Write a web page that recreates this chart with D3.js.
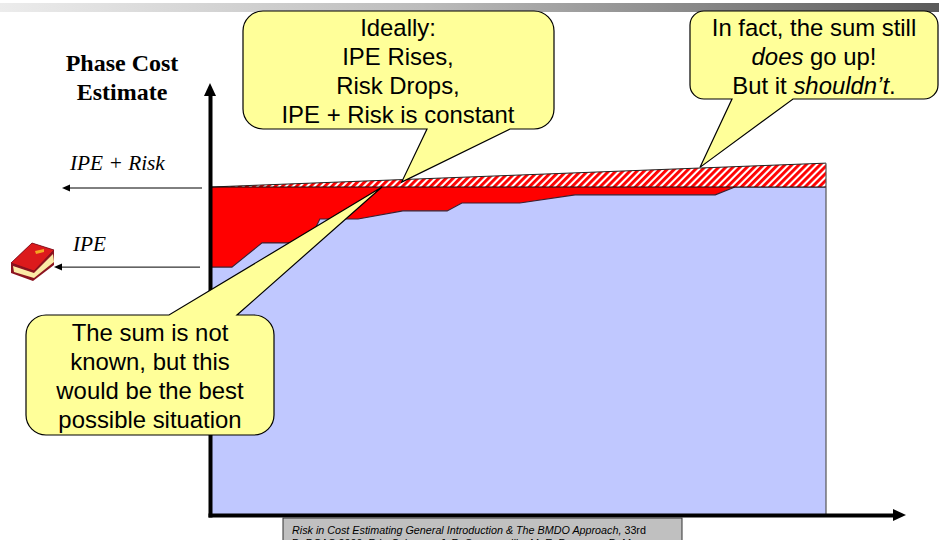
<!DOCTYPE html>
<html><head><meta charset="utf-8">
<script src="https://cdn.jsdelivr.net/npm/d3@7/dist/d3.min.js"></script>
<style>html,body{margin:0;padding:0;background:#fff;overflow:hidden}svg{display:block}</style>
</head><body><svg id="c" width="939" height="540"></svg>
<script>
// Schedule position (percent of phase) and cost index for the estimate series
const phaseSteps = [0, 3.4, 8.3, 15.8, 17.7, 23.9, 31.2, 38.4, 40.8, 50.2, 59.2, 82, 85.2, 100];
const ipeValues  = [75.5, 75.5, 82.9, 82.9, 90.2, 90.2, 92.7, 92.7, 95.1, 95.1, 97.6, 97.6, 100, 100];
const idealSum   = [100, 100];
const actualSumSteps = [0, 100];
const actualSum  = [100, 107.3];
const axisTitle  = ["Phase Cost", "Estimate"];
const seriesLabels = ["IPE + Risk", "IPE"];
const calloutIdeal = ["Ideally:", "IPE Rises,", "Risk Drops,", "IPE + Risk is constant"];
const calloutSum = ["The sum is not", "known, but this", "would be the best", "possible situation"];

const svg = d3.select("#c");
const x = d3.scaleLinear().domain([0, 100]).range([211, 826]);
const y = d3.scaleLinear().domain([0, 100]).range([514, 187]);
const defs = svg.append("defs");

// Header band
const grad = defs.append("linearGradient").attr("id", "band");
grad.append("stop").attr("offset", "0").attr("stop-color", "#ececec");
grad.append("stop").attr("offset", "0.45").attr("stop-color", "#bcbcbc");
grad.append("stop").attr("offset", "1").attr("stop-color", "#5a5a5a");
svg.append("rect").attr("x", 0).attr("y", 3).attr("width", 939).attr("height", 9).attr("fill", "url(#band)");

// Diagonal hatch for the unexpected growth of the sum
const hatch = defs.append("pattern").attr("id", "hatch").attr("patternUnits", "userSpaceOnUse")
  .attr("width", 5).attr("height", 5).attr("patternTransform", "rotate(45)");
hatch.append("rect").attr("width", 5).attr("height", 5).attr("fill", "#fff");
hatch.append("rect").attr("width", 2.9).attr("height", 5).attr("fill", "#ff0000");

const ipeArea = d3.area().x((d, i) => x(phaseSteps[i])).y0(y(0)).y1(d => y(d));
const ipeLine = d3.line().x((d, i) => x(phaseSteps[i])).y(d => y(d));
const sumArea = d3.area().x((d, i) => x(actualSumSteps[i])).y0((d, i) => y(idealSum[i])).y1(d => y(d));
const sumLine = d3.line().x((d, i) => x(actualSumSteps[i])).y(d => y(d));

// Risk band up to the constant sum
svg.append("rect").attr("x", x(0)).attr("width", x(100) - x(0)).attr("y", y(100)).attr("height", y(0) - y(100)).attr("fill", "#ff0000");
svg.append("path").datum(ipeValues).attr("d", ipeArea).attr("fill", "#c0c8ff");
svg.append("path").datum(ipeValues).attr("d", ipeLine).attr("fill", "none").attr("stroke", "#3a2030").attr("stroke-width", 1.1);
svg.append("path").datum(actualSum).attr("d", sumArea).attr("fill", "url(#hatch)");
svg.append("path").datum(actualSum).attr("d", sumLine).attr("fill", "none").attr("stroke", "#222").attr("stroke-width", 1);
svg.append("line").attr("x1", x(0)).attr("x2", x(100)).attr("y1", y(100)).attr("y2", y(100)).attr("stroke", "#111").attr("stroke-width", 1.2);
svg.append("line").attr("x1", x(100)).attr("x2", x(100)).attr("y1", y(107.3)).attr("y2", y(0)).attr("stroke", "#555").attr("stroke-width", 1.2);

// Axes: heavy strokes with arrowheads and no ticks
const axisY = d3.axisLeft(d3.scaleLinear().domain([0, 1]).range([517, 94])).tickValues([]).tickSize(0);
const axisX = d3.axisBottom(d3.scaleLinear().domain([0, 1]).range([208, 894])).tickValues([]).tickSize(0);
svg.append("g").attr("transform", "translate(210,0)").call(axisY).select(".domain").attr("stroke", "#000").attr("stroke-width", 4);
svg.append("g").attr("transform", "translate(0,515)").call(axisX).select(".domain").attr("stroke", "#000").attr("stroke-width", 4);
svg.append("path").attr("d", "M210,83 L216,96 L204,96 Z").attr("fill", "#000");
svg.append("path").attr("d", "M906,515 L893,509 L893,521 Z").attr("fill", "#000");

// Axis title and series labels
const serif = "'Liberation Serif','Times New Roman',serif";
svg.selectAll(".at").data(axisTitle).join("text").attr("class", "at")
  .attr("x", 122).attr("y", (d, i) => 71 + i * 29).attr("text-anchor", "middle")
  .attr("font-family", serif).attr("font-weight", "bold").attr("font-size", 24).attr("fill", "#000").text(d => d);
svg.append("text").attr("x", 70).attr("y", 170).attr("font-family", serif).attr("font-style", "italic").attr("font-size", 21.3).text(seriesLabels[0]);
svg.append("text").attr("x", 73).attr("y", 251).attr("font-family", serif).attr("font-style", "italic").attr("font-size", 21.3).text(seriesLabels[1]);

// Leader arrows from the cost axis to the labels
function leader(x0, x1, yy) {
  svg.append("line").attr("x1", x0 + 6).attr("x2", x1).attr("y1", yy).attr("y2", yy).attr("stroke", "#000").attr("stroke-width", 1);
  svg.append("path").attr("d", `M${x0},${yy} L${x0 + 8},${yy - 3.5} L${x0 + 8},${yy + 3.5} Z`).attr("fill", "#000");
}
leader(62, 202, y(100) + 1);
leader(54, 200, y(75.5));

// Book icon beside the IPE label
const book = svg.append("g").attr("stroke-linejoin", "round");
book.append("path").attr("d", "M11,263 L32,243 L54,250 L54,265 L33,281 L11,273 Z").attr("fill", "#8c1420");
book.append("path").attr("d", "M13,266 L34,273 L53,254 L54,262 L34,278 L14,272 Z").attr("fill", "#fbeaa6");
book.append("path").attr("d", "M11,263 L32,243 L54,250 L34,271 Z").attr("fill", "#dc1a1c").attr("stroke", "#7a1020").attr("stroke-width", 0.8);
book.append("path").attr("d", "M35,251 L44,249 L44,252 L36,254 Z").attr("fill", "#f5a623");

// Speech bubbles: rounded body with a wedge that points at the chart
function bubble(bx, by, w, h, r, side, b0, b1, tip) {
  const bottom = by + h, right = bx + w;
  const top = side === "top";
  const p = d3.path();
  if (top) {
    p.moveTo(bx + r, by); p.lineTo(b0, by); p.lineTo(tip[0], tip[1]); p.lineTo(b1, by);
  } else {
    p.moveTo(bx + r, by); 
  }
  p.lineTo(right - r, by); p.arcTo(right, by, right, by + r, r);
  p.lineTo(right, bottom - r); p.arcTo(right, bottom, right - r, bottom, r);
  if (!top) { p.lineTo(b1, bottom); p.lineTo(tip[0], tip[1]); p.lineTo(b0, bottom); }
  p.lineTo(bx + r, bottom); p.arcTo(bx, bottom, bx, bottom - r, r);
  p.lineTo(bx, by + r); p.arcTo(bx, by, bx + r, by, r);
  p.closePath();
  svg.append("path").attr("d", p.toString()).attr("fill", "#ffff99").attr("stroke", "#000").attr("stroke-width", 1.2);
}
const sans = "'Liberation Sans',Arial,sans-serif";
function lines(arr, cx, y0, dy) {
  svg.selectAll(null).data(arr).join("text").attr("x", cx).attr("y", (d, i) => y0 + i * dy)
    .attr("text-anchor", "middle").attr("font-family", sans).attr("font-size", 23.9).attr("fill", "#000").text(d => d);
}

// Wedge from the lower bubble runs under the upper one
bubble(26, 315, 248, 120, 20, "top", 169, 237, [x(27.8), y(100)]);
bubble(243, 11, 311, 118, 20, "bottom", 427, 510, [x(31), y(101.5)]);
bubble(690, 11, 248, 88, 14, "bottom", 732, 793, [x(79.5), y(106)]);
lines(calloutIdeal, 398, 36, 29);
lines(calloutSum, 150, 341, 29);

// Upper-right callout, with emphasised words
const t1 = svg.append("g").attr("font-family", sans).attr("font-size", 23.9).attr("text-anchor", "middle").attr("fill", "#000");
t1.append("text").attr("x", 814).attr("y", 36).text("In fact, the sum still");
const t2 = t1.append("text").attr("x", 814).attr("y", 65);
t2.append("tspan").attr("font-style", "italic").text("does");
t2.append("tspan").text(" go up!");
const t3 = t1.append("text").attr("x", 814).attr("y", 94);
t3.append("tspan").text("But it ");
t3.append("tspan").attr("font-style", "italic").text("shouldn’t");
t3.append("tspan").text(".");

// Citation box, running off the bottom edge
svg.append("rect").attr("x", 283).attr("y", 518).attr("width", 399).attr("height", 30).attr("fill", "#c0c0c0").attr("stroke", "#333").attr("stroke-width", 1);
const cite = svg.append("g").attr("font-family", sans).attr("font-size", 10.75).attr("fill", "#000");
const c1 = cite.append("text").attr("x", 292).attr("y", 534);
c1.append("tspan").attr("font-style", "italic").text("Risk in Cost Estimating General Introduction & The BMDO Approach,");
c1.append("tspan").text(" 33rd");
cite.append("text").attr("x", 292).attr("y", 547).text("DoDCAS 2000, R.L. Coleman, J. R. Summerville, M. E. Dameron, D. M.");
</script></body></html>
